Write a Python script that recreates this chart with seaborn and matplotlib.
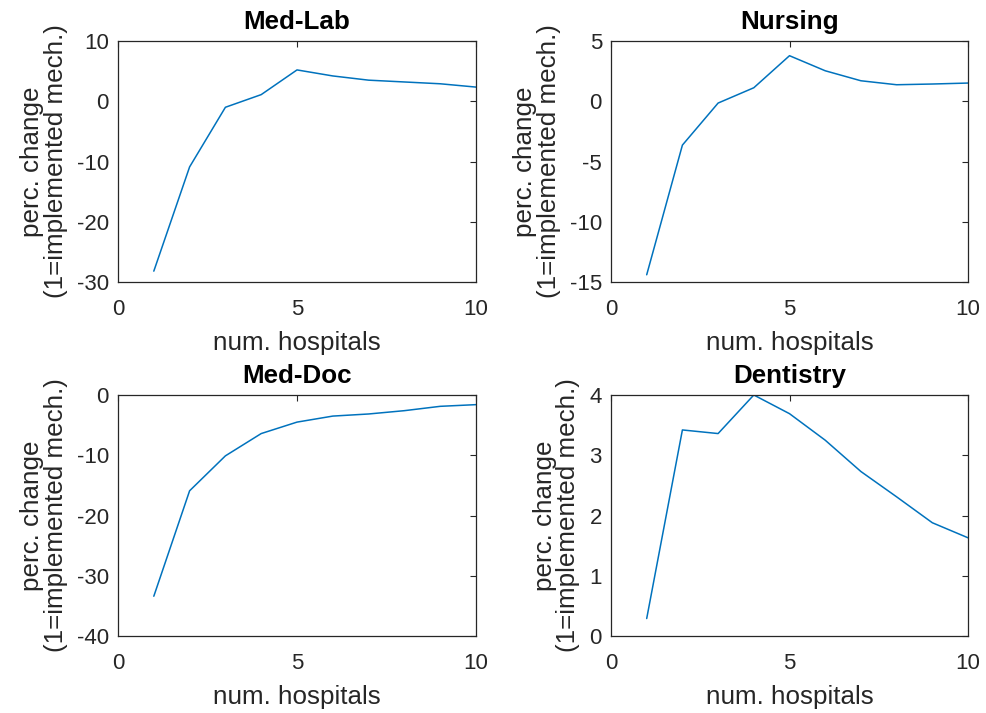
import matplotlib
matplotlib.use("Agg")
import matplotlib.pyplot as plt
import seaborn as sns
import pandas as pd

hospitals = [1, 2, 3, 4, 5, 6, 7, 8, 9, 10]
med_lab = [-28.2, -10.9, -1.0, 1.1, 5.2, 4.2, 3.5, 3.2, 2.9, 2.35]
nursing = [-14.4, -3.64, -0.15, 1.12, 3.78, 2.53, 1.70, 1.37, 1.43, 1.51]
med_doc = [-33.4, -15.9, -10.1, -6.4, -4.5, -3.5, -3.15, -2.6, -1.88, -1.6]
dentistry = [0.29, 3.42, 3.36, 4.0, 3.69, 3.25, 2.73, 2.31, 1.88, 1.63]

titles = ["Med-Lab", "Nursing", "Med-Doc", "Dentistry"]
series = [med_lab, nursing, med_doc, dentistry]
ylims = [(-30, 10), (-15, 5), (-40, 0), (0, 4)]
yticks = [[-30, -20, -10, 0, 10], [-15, -10, -5, 0, 5],
          [-40, -30, -20, -10, 0], [0, 1, 2, 3, 4]]
xticks = [0, 5, 10]

sns.set_style("white")
plt.rcParams['font.family'] = ['Liberation Sans', 'DejaVu Sans']
plt.rcParams['axes.unicode_minus'] = False

fig = plt.figure(figsize=(9.87, 7.13), dpi=100)
boxes = [
    (118, 41, 476, 282),
    (611, 41, 968, 282),
    (118, 395, 476, 636),
    (611, 395, 968, 636),
]
W, H = 987, 713
dark = "#262626"
for (x0, y0, x1, y1), title, vals, yl, yt in zip(boxes, titles, series, ylims, yticks):
    ax = fig.add_axes([x0 / W, 1 - y1 / H, (x1 - x0) / W, (y1 - y0) / H])
    df = pd.DataFrame({"x": hospitals, "y": vals})
    sns.lineplot(data=df, x="x", y="y", ax=ax, color="#0072BD", linewidth=1.1)
    ax.set_xlim(0, 10)
    ax.set_ylim(*yl)
    ax.set_xticks(xticks)
    ax.set_yticks(yt)
    ax.tick_params(direction="in", length=4.5, width=0.8, colors=dark,
                   labelsize=16, top=True, right=True)
    ax.tick_params(axis="x", pad=12)
    ax.tick_params(axis="y", pad=6.5)
    for s in ax.spines.values():
        s.set_color(dark)
        s.set_linewidth(0.9)
    ax.set_xlabel("num. hospitals", fontsize=18.7, color=dark, labelpad=8)
    ax.set_ylabel("perc. change\n(1=implemented mech.)", fontsize=18.7,
                  color=dark, labelpad=6.5, linespacing=0.98)
    ax.set_title(title, fontsize=18.7, fontweight="bold", color="black", pad=8.4)

fig.savefig("out.png", dpi=100)
